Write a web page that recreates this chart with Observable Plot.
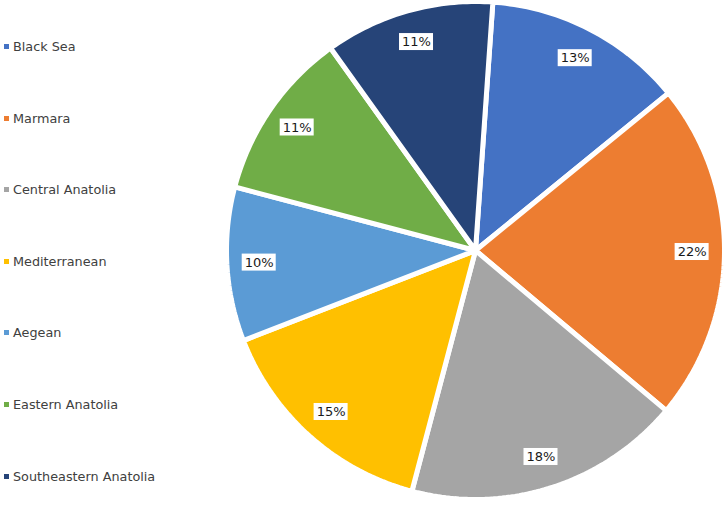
<!DOCTYPE html>
<html>
<head>
<meta charset="utf-8">
<script src="https://cdn.jsdelivr.net/npm/d3@7"></script>
<script src="https://cdn.jsdelivr.net/npm/@observablehq/plot@0.6"></script>
<style>
  html, body { margin: 0; padding: 0; background: #fff; }
  #wrap { position: relative; width: 725px; height: 506px; font-family: "DejaVu Sans", Verdana, sans-serif; }
  #legend { position: absolute; left: 0; top: 0; width: 220px; height: 506px; }
  .item { position: absolute; left: 4px; font-size: 12.8px; color: #404040; display: flex; align-items: center; white-space: nowrap; }
  .sw { width: 5px; height: 5px; margin-right: 4px; }
  #chart { position: absolute; left: 0; top: 0; }
</style>
</head>
<body>
<div id="wrap"><div id="chart"></div><div id="legend"></div></div>
<script>
const regions = ["Black Sea", "Marmara", "Central Anatolia", "Mediterranean", "Aegean", "Eastern Anatolia", "Southeastern Anatolia"];
const shares = [13, 22, 18, 15, 10, 11, 11];
const labels = ["13%", "22%", "18%", "15%", "10%", "11%", "11%"];
const colors = ["#4472C4", "#ED7D31", "#A5A5A5", "#FFC000", "#5B9BD5", "#70AD47", "#264478"];

const W = 725, H = 506;
const CX = 475, CY = 250;
const R = 249;
const startDeg = 4;

const data = regions.map((r, i) => ({region: r, share: shares[i], label: labels[i]}));
const arcs = d3.pie().sort(null).value(d => d.share)
  .startAngle(startDeg * Math.PI / 180)
  .endAngle((startDeg + 360) * Math.PI / 180)(data);

// polygon outlines of each slice (angles clockwise from 12 o'clock)
const poly = [];
arcs.forEach(a => {
  const n = Math.max(2, Math.ceil((a.endAngle - a.startAngle) * 180 / Math.PI));
  poly.push({region: a.data.region, x: 0, y: 0});
  for (let k = 0; k <= n; k++) {
    const t = a.startAngle + (a.endAngle - a.startAngle) * k / n;
    poly.push({region: a.data.region, x: R * Math.sin(t), y: R * Math.cos(t)});
  }
  poly.push({region: a.data.region, x: 0, y: 0});
});

const lr = 0.87 * R;
const lab = arcs.map(a => {
  const m = (a.startAngle + a.endAngle) / 2;
  return {label: a.data.label, x: lr * Math.sin(m), y: lr * Math.cos(m)};
});

const chart = Plot.plot({
  width: W, height: H,
  margin: 0,
  x: {domain: [-CX, W - CX], axis: null},
  y: {domain: [-(H - CY), CY], axis: null},
  color: {domain: regions, range: colors},
  marks: [
    Plot.line(poly, {x: "x", y: "y", z: "region", fill: "region", stroke: "white", strokeWidth: 5, strokeLinejoin: "miter", curve: "linear"}),
    Plot.rect(lab, {x1: d => d.x - 17, x2: d => d.x + 17, y1: d => d.y - 8.5, y2: d => d.y + 8.5, fill: "white"}),
    Plot.text(lab, {x: "x", y: "y", text: "label", fill: "#1a1a1a", fontSize: 13, fontFamily: "DejaVu Sans, Verdana, sans-serif"})
  ]
});
document.getElementById("chart").appendChild(chart);

const legend = document.getElementById("legend");
const ly = [47, 119, 190, 262, 333, 405, 477];
regions.forEach((r, i) => {
  const it = document.createElement("div");
  it.className = "item";
  it.style.top = (ly[i] - 8) + "px";
  it.innerHTML = `<span class="sw" style="background:${colors[i]}"></span><span>${r}</span>`;
  legend.appendChild(it);
});
</script>
</body>
</html>
